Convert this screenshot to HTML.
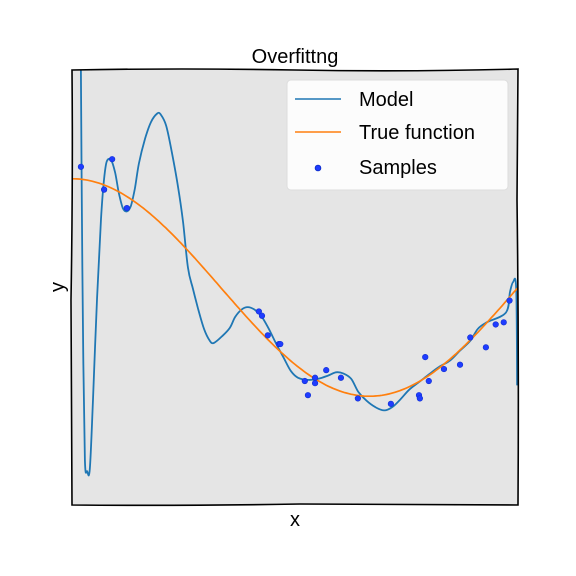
<!DOCTYPE html>
<html><head><meta charset="utf-8"><style>
html,body{margin:0;padding:0;background:#fff;width:576px;height:576px;overflow:hidden}
svg text{font-family:"Liberation Sans",sans-serif;fill:#000}
</style></head><body>
<svg id="chart" width="576" height="576" viewBox="0 0 576 576" xmlns="http://www.w3.org/2000/svg">
<defs><clipPath id="plotclip"><rect x="72" y="70" width="446" height="435"/></clipPath></defs>
<rect x="72" y="70" width="446" height="435" fill="#e5e5e5"/>
<g id="series"></g>
<path d="M72,70 Q180,68 295,70 T518,69 L517,200 Q519,350 518,505 L300,504 Q180,506 72,505 L71,300 Q73,180 72,70 Z" fill="none" stroke="#000" stroke-width="1.6"/>
<text x="295" y="63" font-size="20" text-anchor="middle">Overfittng</text>
<text x="295" y="526" font-size="20" text-anchor="middle">x</text>
<text x="64" y="287" font-size="20" text-anchor="middle" transform="rotate(-90 64 287)">y</text>
<g>
<rect x="287" y="80" width="221" height="110" rx="4" fill="#fcfcfc" stroke="#ddd"/>
<line x1="295" y1="99" x2="341" y2="99" stroke="#1f77b4" stroke-width="1.6"/>
<text x="359" y="106" font-size="20">Model</text>
<line x1="295" y1="132" x2="341" y2="132" stroke="#ff7f0e" stroke-width="1.6"/>
<text x="359" y="139" font-size="20">True function</text>
<circle cx="318" cy="168" r="2.8" fill="#1f3cff" stroke="#1030d0"/>
<text x="359" y="174" font-size="20">Samples</text>
</g>
</svg>
<script>
const modelX=[0.020,0.022,0.025,0.029,0.034,0.040,0.047,0.056,0.065,0.072,0.078,0.088,0.097,0.105,0.114,0.123,0.132,0.141,0.150,0.164,0.177,0.191,0.199,0.211,0.224,0.238,0.249,0.260,0.271,0.283,0.296,0.309,0.318,0.336,0.354,0.366,0.381,0.394,0.408,0.424,0.440,0.457,0.475,0.491,0.507,0.529,0.552,0.574,0.592,0.608,0.626,0.642,0.660,0.680,0.700,0.718,0.736,0.756,0.778,0.800,0.823,0.848,0.870,0.893,0.910,0.930,0.973,0.982,0.989,0.996,0.998];
const modelY=[2.00,0.80,-0.58,-1.59,-1.69,-1.67,-1.03,-0.11,0.63,1.00,1.16,1.17,1.05,0.87,0.73,0.70,0.75,0.91,1.14,1.37,1.52,1.60,1.59,1.49,1.24,0.92,0.60,0.18,-0.01,-0.20,-0.38,-0.49,-0.51,-0.45,-0.37,-0.27,-0.20,-0.18,-0.20,-0.26,-0.37,-0.51,-0.65,-0.77,-0.83,-0.85,-0.84,-0.81,-0.78,-0.79,-0.84,-0.96,-1.04,-1.10,-1.13,-1.10,-1.03,-0.94,-0.87,-0.80,-0.73,-0.67,-0.58,-0.49,-0.38,-0.32,-0.23,-0.04,0.05,-0.01,-0.90];
const pointsX=[0.020,0.072,0.090,0.123,0.419,0.426,0.439,0.464,0.467,0.522,0.529,0.545,0.545,0.570,0.603,0.641,0.715,0.778,0.780,0.792,0.800,0.834,0.870,0.893,0.928,0.950,0.968,0.981];
const pointsY=[1.11,0.90,1.18,0.73,-0.22,-0.26,-0.44,-0.52,-0.52,-0.86,-0.99,-0.83,-0.88,-0.76,-0.83,-1.02,-1.07,-0.99,-1.02,-0.64,-0.86,-0.75,-0.71,-0.46,-0.55,-0.34,-0.32,-0.12];
const xDomain=[0,1], yDomain=[-2,2];
const X=v=>72+(v-xDomain[0])/(xDomain[1]-xDomain[0])*446;
const Y=v=>505-(v-yDomain[0])/(yDomain[1]-yDomain[0])*435;
const NS="http://www.w3.org/2000/svg";
const g=document.getElementById('series');
const clip=document.createElementNS(NS,'g');clip.setAttribute('clip-path','url(#plotclip)');g.appendChild(clip);
// model (Catmull-Rom smoothing)
const P=modelX.map((x,i)=>[X(x),Y(modelY[i])]);
let d='M'+P[0][0].toFixed(1)+','+P[0][1].toFixed(1);
for(let i=0;i<P.length-1;i++){
  const p0=P[Math.max(0,i-1)],p1=P[i],p2=P[i+1],p3=P[Math.min(P.length-1,i+2)];
  const c1=[p1[0]+(p2[0]-p0[0])/6,p1[1]+(p2[1]-p0[1])/6];
  const c2=[p2[0]-(p3[0]-p1[0])/6,p2[1]-(p3[1]-p1[1])/6];
  d+=' C'+c1[0].toFixed(1)+','+c1[1].toFixed(1)+' '+c2[0].toFixed(1)+','+c2[1].toFixed(1)+' '+p2[0].toFixed(1)+','+p2[1].toFixed(1);
}
const mp=document.createElementNS(NS,'path');


mp.setAttribute('d',d);mp.setAttribute('fill','none');mp.setAttribute('stroke','#1f77b4');mp.setAttribute('stroke-width','1.8');mp.setAttribute('stroke-linejoin','round');
clip.appendChild(mp);
// true function
let td='';for(let i=0;i<=200;i++){const x=i/200;td+=(i?'L':'M')+X(x).toFixed(1)+','+Y(Math.cos(1.5*Math.PI*x)).toFixed(1)+' ';}
const tp=document.createElementNS(NS,'path');


tp.setAttribute('d',td);tp.setAttribute('fill','none');tp.setAttribute('stroke','#ff7f0e');tp.setAttribute('stroke-width','1.7');
clip.appendChild(tp);
// samples
pointsX.forEach((x,i)=>{const c=document.createElementNS(NS,'circle');


c.setAttribute('cx',X(x));c.setAttribute('cy',Y(pointsY[i]));c.setAttribute('r','2.8');c.setAttribute('fill','#1f3cff');c.setAttribute('stroke','#1030d0');c.setAttribute('stroke-width','0.6');clip.appendChild(c);});
</script>
</body></html>
